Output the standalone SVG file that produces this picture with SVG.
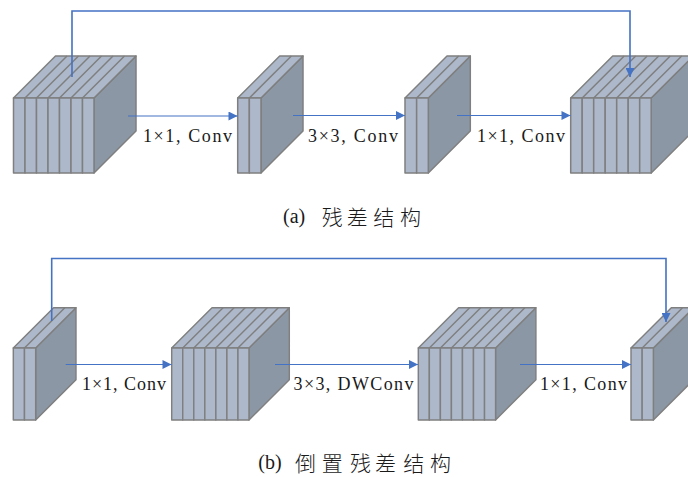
<svg xmlns="http://www.w3.org/2000/svg" xmlns:xlink="http://www.w3.org/1999/xlink" width="688" height="477" viewBox="0 0 688 477">
<style>
.slice{fill:#ADB9CA;stroke:#7F7F7F;stroke-width:1.5;stroke-linejoin:round}
.side{fill:#8B97A5;stroke:#7F7F7F;stroke-width:1.5;stroke-linejoin:round}
.ln{stroke:#7F7F7F;stroke-width:1.5;fill:none}
.arr{stroke:#4472C4;stroke-width:1.2;fill:none}
.skip{stroke:#4472C4;stroke-width:1.6;fill:none}
</style>
<defs>
<marker id="ah" viewBox="0 0 10 10" refX="10" refY="5" markerWidth="11" markerHeight="9" markerUnits="userSpaceOnUse" orient="auto">
<path d="M0,0 L10,5 L0,10 z" fill="#4472C4"/>
</marker>
<g id="big7">
<polygon class="side" points="80.5,0 122.5,-42 122.5,33 80.5,75"/>
<polygon class="slice" points="0,0 42,-42 122.5,-42 80.5,0"/>
<path class="ln" d="M11.5,0 l42,-42 M23,0 l42,-42 M34.5,0 l42,-42 M46,0 l42,-42 M57.5,0 l42,-42 M69,0 l42,-42"/>
<rect class="slice" x="0" y="0" width="11.5" height="75"/>
<rect class="slice" x="11.5" y="0" width="11.5" height="75"/>
<rect class="slice" x="23" y="0" width="11.5" height="75"/>
<rect class="slice" x="34.5" y="0" width="11.5" height="75"/>
<rect class="slice" x="46" y="0" width="11.5" height="75"/>
<rect class="slice" x="57.5" y="0" width="11.5" height="75"/>
<rect class="slice" x="69" y="0" width="11.5" height="75"/>
</g>
<g id="thin2">
<polygon class="side" points="23.3,0 65.3,-42 65.3,33 23.3,75"/>
<polygon class="slice" points="0,0 42,-42 65.3,-42 23.3,0"/>
<path class="ln" d="M11.65,0 l42,-42"/>
<rect class="slice" x="0" y="0" width="11.65" height="75"/>
<rect class="slice" x="11.65" y="0" width="11.65" height="75"/>
</g>
</defs>

<g id="a1"><use xlink:href="#big7" transform="translate(13.5,98)"/></g>
<g id="a2"><use xlink:href="#thin2" transform="translate(237.7,98)"/></g>
<g id="a3"><use xlink:href="#thin2" transform="translate(405,98)"/></g>
<g id="a4"><use xlink:href="#big7" transform="translate(570.7,98)"/></g>

<g id="b1"><use xlink:href="#thin2" transform="translate(13.3,348) scale(0.96)"/></g>
<g id="b2"><use xlink:href="#big7" transform="translate(171.7,348) scale(0.96)"/></g>
<g id="b3"><use xlink:href="#big7" transform="translate(418.3,348) scale(0.96)"/></g>
<g id="b4"><use xlink:href="#thin2" transform="translate(631,348) scale(0.96)"/></g>

<g id="connectors">
<path class="skip" d="M72,77 V11 H630 V77" marker-end="url(#ah)"/>
<path class="arr" d="M128,116 H237.5" marker-end="url(#ah)"/>
<path class="arr" d="M293,115.5 H405" marker-end="url(#ah)"/>
<path class="arr" d="M457,115.5 H570.5" marker-end="url(#ah)"/>
<path class="skip" d="M51.7,321 V258.5 H666 V322" marker-end="url(#ah)"/>
<path class="arr" d="M65.7,364.5 H171.5" marker-end="url(#ah)"/>
<path class="arr" d="M275,364.5 H418" marker-end="url(#ah)"/>
<path class="arr" d="M520,364.5 H631" marker-end="url(#ah)"/>
</g>

<g id="labels" font-family="Liberation Serif, Tinos, DejaVu Serif, serif" font-size="18" fill="#1a1a1a">
<text x="143" y="142" textLength="89" lengthAdjust="spacing">1×1, Conv</text>
<text x="308" y="142" textLength="90" lengthAdjust="spacing">3×3, Conv</text>
<text x="477" y="142" textLength="88" lengthAdjust="spacing">1×1, Conv</text>
<text x="82" y="390" textLength="84" lengthAdjust="spacing">1×1, Conv</text>
<text x="293.5" y="390" textLength="120" lengthAdjust="spacing">3×3, DWConv</text>
<text x="540" y="390" textLength="87" lengthAdjust="spacing">1×1, Conv</text>
</g>

<g id="captions" fill="#1a1a1a">
<text font-family="Liberation Serif, Tinos, DejaVu Serif, serif" font-size="20" x="283" y="223">(a)</text>
<text font-family="Noto Sans CJK SC, Noto Sans CJK JP, sans-serif" font-size="21" font-weight="300" x="321.7 346.7 373.3 400" y="225">残差结构</text>
<text font-family="Liberation Serif, Tinos, DejaVu Serif, serif" font-size="20" x="258.3" y="469">(b)</text>
<text font-family="Noto Sans CJK SC, Noto Sans CJK JP, sans-serif" font-size="21" font-weight="300" x="295 321.7 350 375 403.3 430" y="471">倒置残差结构</text>
</g>
</svg>
